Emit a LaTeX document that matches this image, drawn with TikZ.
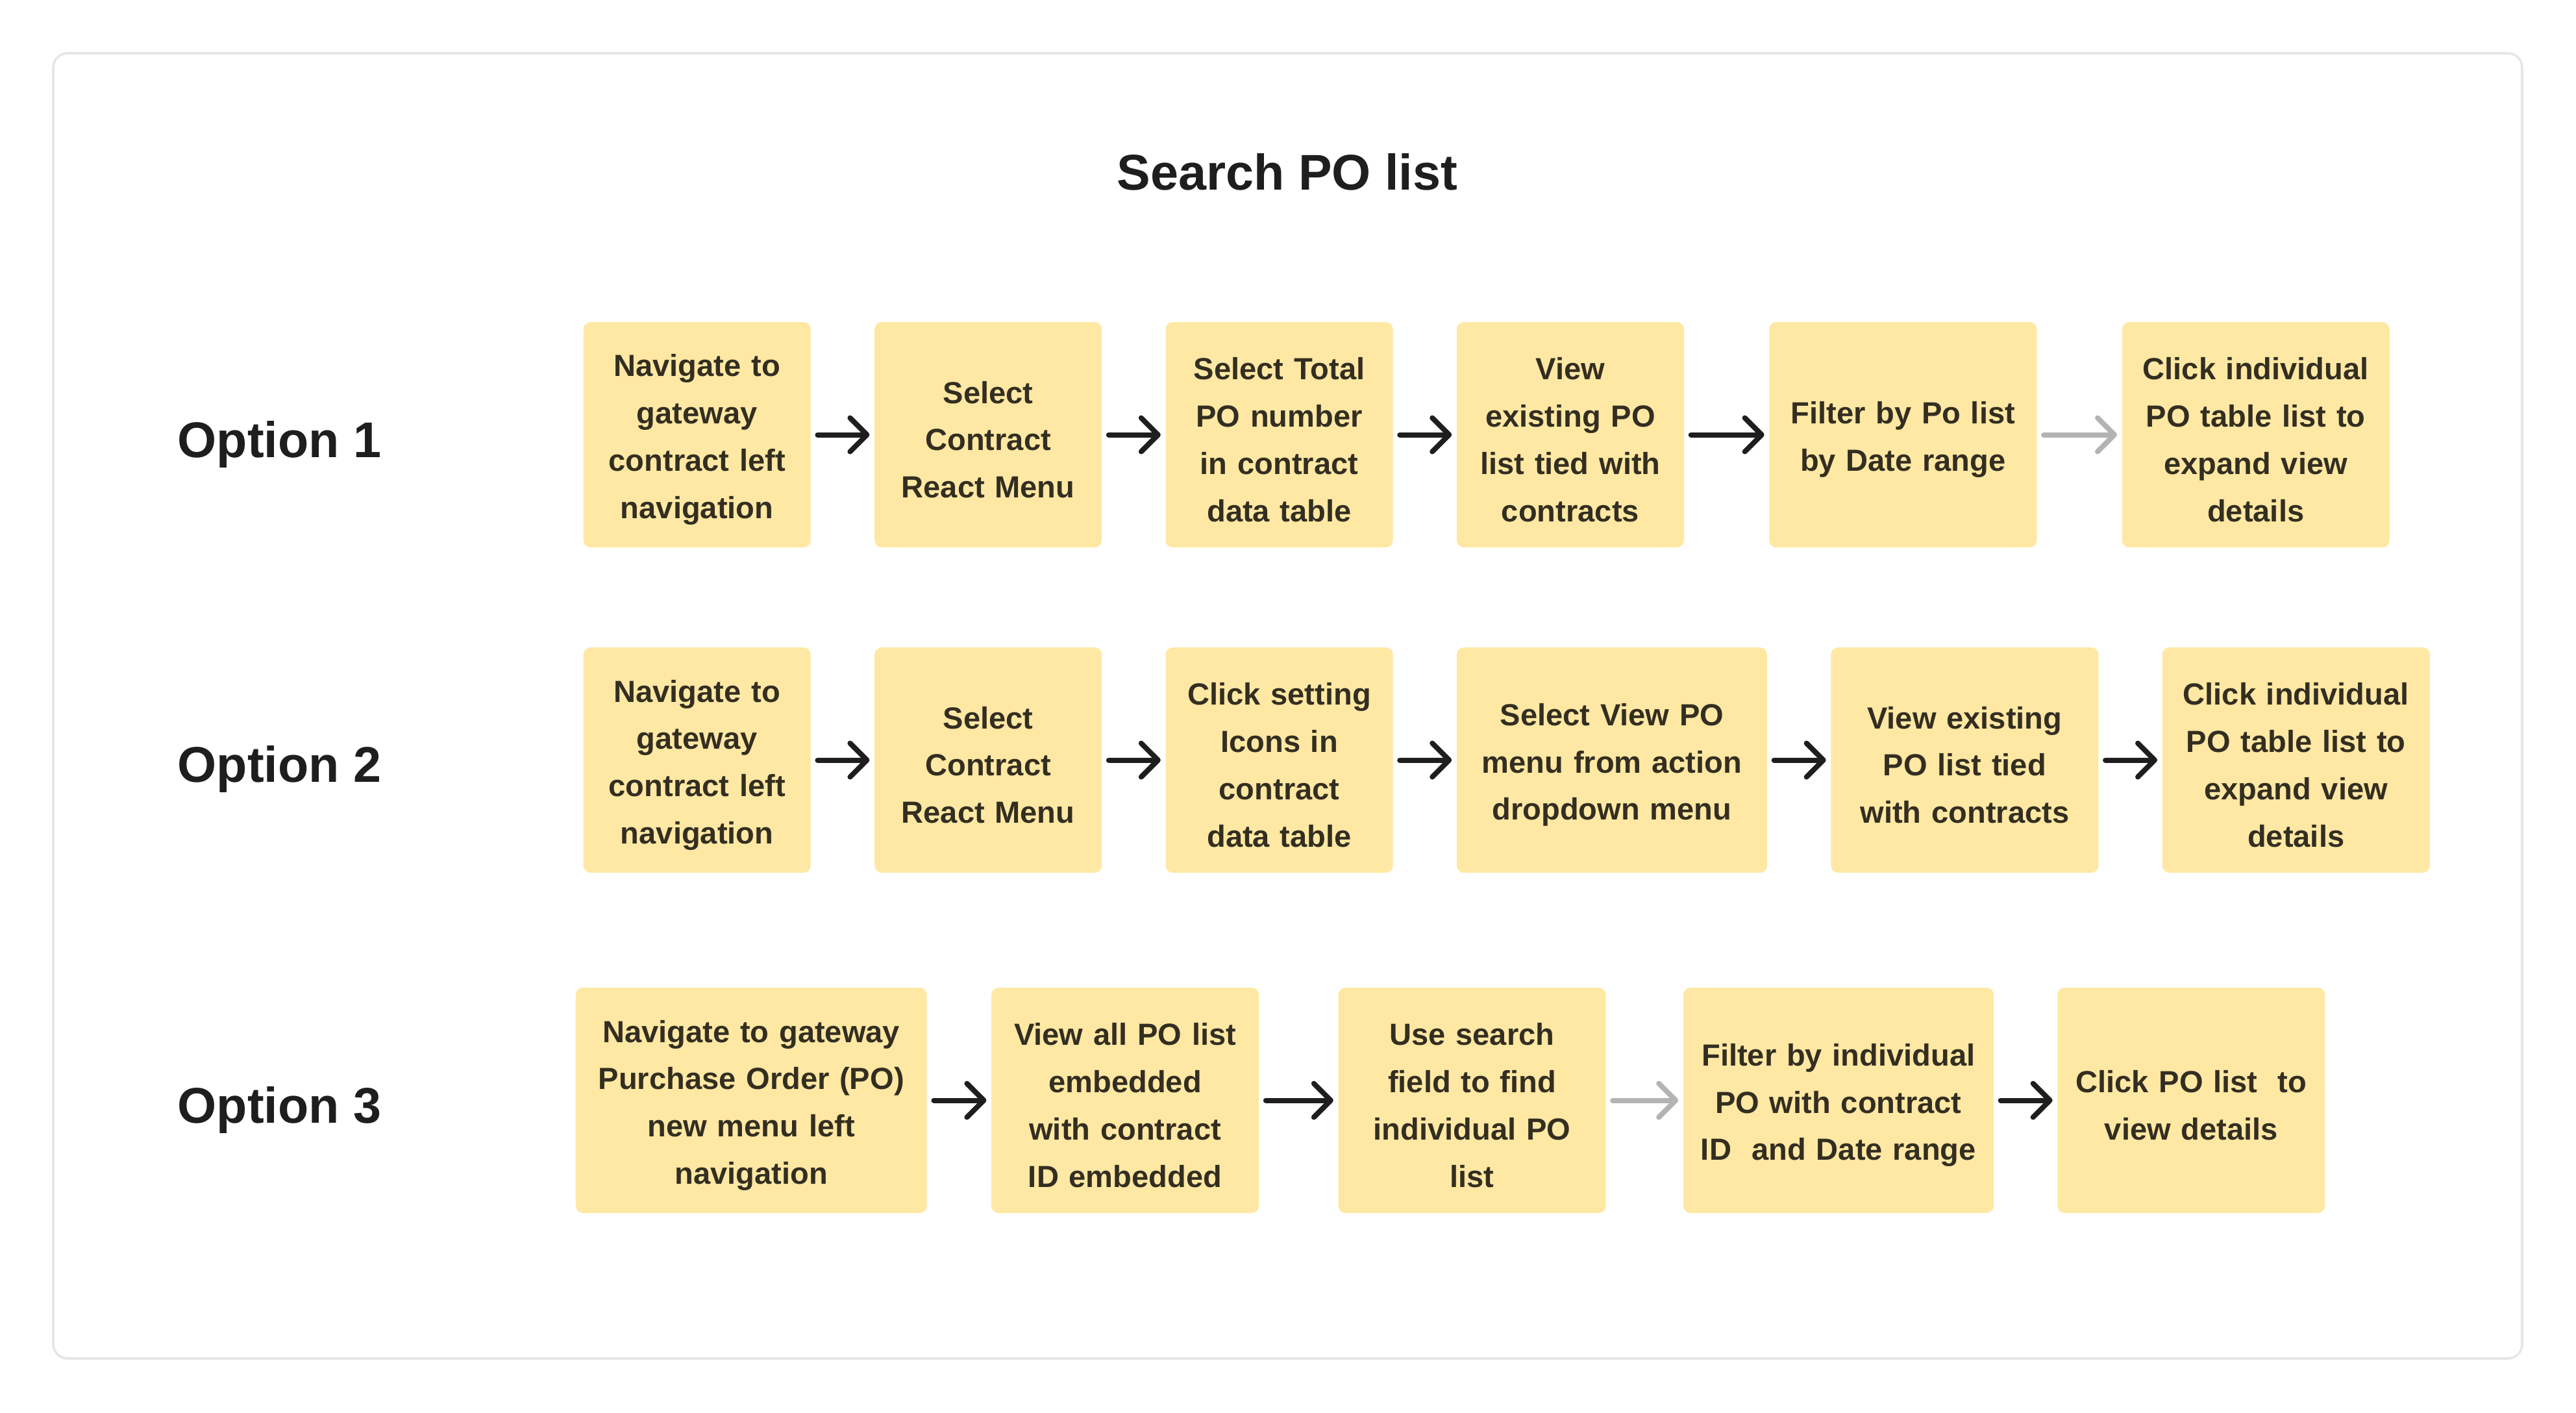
\documentclass[tikz,border=0pt]{standalone}
\usepackage{fontspec}
\setmainfont{Liberation Sans}
\usepackage{tikz}
\usetikzlibrary{arrows.meta,positioning}
\definecolor{note}{HTML}{FFE8A3}
\definecolor{notetext}{HTML}{332E21}
\definecolor{ink}{HTML}{1E1E1E}
\definecolor{rim}{HTML}{E6E6E6}
\definecolor{faint}{HTML}{B3B3B3}
\tikzstyle{yb} = [rectangle, fill=note, text=notetext, font=\bfseries\fontsize{13.4}{20.7}\selectfont, align=center, inner sep=0pt, minimum height=3.47cm, rounded corners=0.11cm, execute at begin node={\rule{0pt}{14pt}}]
\tikzstyle{w1} = [text width=3.5cm]
\tikzstyle{w2} = [text width=4.12cm]
\tikzstyle{w3} = [text width=4.78cm]
\tikzstyle{w4} = [text width=5.41cm]
\tikzstyle{ar} = [ink, line width=0.08cm, line cap=round, -{Straight Barb[length=0.26cm,width=0.52cm,round]}, shorten <=1mm, shorten >=0.7mm]
\tikzstyle{ag} = [ar, faint]
\tikzstyle{lb} = [ink, font=\bfseries\fontsize{22}{27}\selectfont, anchor=base west, inner sep=0pt]
\tikzstyle{fr} = [rim, line width=0.036cm, rounded corners=0.22cm]

\begin{document}
\begin{tikzpicture}
		\useasboundingbox (0,0) rectangle (39.68,-21.76);
		\draw[fr] (0.82,-0.82) rectangle (38.85,-20.92);
		\node[lb, anchor=base] (title) at (19.83,-2.92) {Search PO list};

		% option 1
		\node[lb] (opt1) at (2.73,-7.04) {Option 1};
		\node[yb, w1, anchor=west] (o1a) at (8.98,-6.695) {Navigate to\\gateway\\contract left\\navigation};
		\node[yb, w1, right=0.97cm of o1a] (o1b) {Select\\Contract\\React Menu};
		\node[yb, w1, right=0.97cm of o1b] (o1c) {Select Total\\PO number\\in contract\\data table};
		\node[yb, w1, right=0.97cm of o1c] (o1d) {View\\existing PO\\list tied with\\contracts};
		\node[yb, w2, right=1.3cm of o1d] (o1e) {Filter by Po list\\by Date range};
		\node[yb, w2, right=1.3cm of o1e] (o1f) {Click individual\\PO table list to\\expand view\\details};
		\draw[ar] (o1a) -- (o1b);
		\draw[ar] (o1b) -- (o1c);
		\draw[ar] (o1c) -- (o1d);
		\draw[ar] (o1d) -- (o1e);
		\draw[ag] (o1e) -- (o1f);

		% option 2
		\node[lb] (opt2) at (2.73,-12.04) {Option 2};
		\node[yb, w1, anchor=west] (o2a) at (8.98,-11.705) {Navigate to\\gateway\\contract left\\navigation};
		\node[yb, w1, right=0.97cm of o2a] (o2b) {Select\\Contract\\React Menu};
		\node[yb, w1, right=0.97cm of o2b] (o2c) {Click setting\\Icons in\\contract\\data table};
		\node[yb, w3, right=0.97cm of o2c] (o2d) {Select View PO\\menu from action\\dropdown menu};
		\node[yb, w2, right=0.97cm of o2d] (o2e) {View existing\\PO list tied\\with contracts};
		\node[yb, w2, right=0.97cm of o2e] (o2f) {Click individual\\PO table list to\\expand view\\details};
		\draw[ar] (o2a) -- (o2b);
		\draw[ar] (o2b) -- (o2c);
		\draw[ar] (o2c) -- (o2d);
		\draw[ar] (o2d) -- (o2e);
		\draw[ar] (o2e) -- (o2f);

		% option 3
		\node[lb] (opt3) at (2.73,-17.29) {Option 3};
		\node[yb, w4, anchor=west] (o3a) at (8.86,-16.945) {Navigate to gateway\\Purchase Order (PO)\\new menu left\\navigation};
		\node[yb, w2, right=0.98cm of o3a] (o3b) {View all PO list\\embedded\\with contract\\ID embedded};
		\node[yb, w2, right=1.21cm of o3b] (o3c) {Use search\\field to find\\individual PO\\list};
		\node[yb, w3, right=1.18cm of o3c] (o3d) {Filter by individual\\PO with contract\\ID\ \ and Date range};
		\node[yb, w2, right=0.97cm of o3d] (o3e) {Click PO list\ \ to\\view details};
		\draw[ar] (o3a) -- (o3b);
		\draw[ar] (o3b) -- (o3c);
		\draw[ag] (o3c) -- (o3d);
		\draw[ar] (o3d) -- (o3e);
	\end{tikzpicture}
\end{document}
